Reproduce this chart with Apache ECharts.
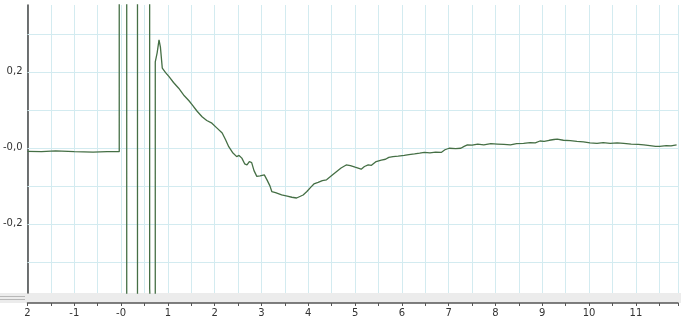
<!DOCTYPE html>
<html>
<head>
<meta charset="utf-8">
<script src="https://cdn.jsdelivr.net/npm/echarts@6/dist/echarts.min.js"></script>
<style>
  html, body { margin: 0; padding: 0; background: #fff; }
  #chart { width: 681px; height: 319px; }
</style>
</head>
<body>
<div id="chart"></div>
<script>
  // trace (time in s, signal)
  var times = [
    -2.0, -1.7, -1.4, -1.0, -0.6, -0.3, -0.04,
    -0.04, 0.12, 0.12, 0.35, 0.35, 0.61, 0.61, 0.63, 0.65, 0.65, 0.73, 0.73,
    0.77, 0.81, 0.84, 0.88, 0.95, 1.02, 1.12, 1.23, 1.35, 1.45, 1.52, 1.62, 1.73, 1.83, 1.94,
    2.05, 2.16, 2.23, 2.30, 2.38, 2.47, 2.52, 2.58, 2.64, 2.69, 2.74, 2.79, 2.84, 2.90, 2.97,
    3.06, 3.12, 3.18, 3.22, 3.30, 3.43, 3.55, 3.65, 3.75, 3.82, 3.89, 3.97,
    4.05, 4.12, 4.21, 4.30, 4.39, 4.50, 4.60, 4.70, 4.81, 4.90,
    5.00, 5.13, 5.20, 5.28, 5.35, 5.45, 5.56, 5.65, 5.72, 5.81, 5.92,
    6.05, 6.15, 6.27, 6.38, 6.48, 6.60, 6.72, 6.84, 6.92,
    7.01, 7.15, 7.26, 7.33, 7.40, 7.50, 7.62, 7.75, 7.90,
    8.04, 8.18, 8.32, 8.45, 8.60, 8.74, 8.85, 8.95,
    9.04, 9.15, 9.25, 9.32, 9.45, 9.60, 9.74, 9.88,
    10.02, 10.17, 10.30, 10.45, 10.60, 10.74, 10.90,
    11.05, 11.17, 11.30, 11.42, 11.51, 11.65, 11.75, 11.87
  ]
  var values = [
    -0.009, -0.010, -0.008, -0.010, -0.011, -0.010, -0.010,
    0.5, 0.5, -0.5, -0.5, 0.5, 0.5, -0.37, -0.37, -0.368, -0.5, -0.5, 0.226,
    0.25, 0.284, 0.265, 0.21, 0.198, 0.188, 0.172, 0.157, 0.137, 0.124, 0.113, 0.097, 0.082, 0.072, 0.065,
    0.052, 0.039, 0.022, 0.003, -0.012, -0.023, -0.020, -0.027, -0.042, -0.045, -0.036, -0.039, -0.060, -0.075, -0.074,
    -0.071, -0.085, -0.100, -0.115, -0.118, -0.124, -0.127, -0.130, -0.132, -0.128, -0.124, -0.115,
    -0.104, -0.095, -0.091, -0.086, -0.084, -0.073, -0.063, -0.053, -0.045, -0.047,
    -0.051, -0.056, -0.049, -0.045, -0.046, -0.036, -0.032, -0.030, -0.025, -0.023, -0.022,
    -0.020, -0.018, -0.016, -0.014, -0.012, -0.013, -0.011, -0.012, -0.005,
    -0.001, -0.002, -0.001, 0.004, 0.008, 0.007, 0.010, 0.008, 0.011,
    0.010, 0.009, 0.008, 0.011, 0.012, 0.014, 0.013, 0.018,
    0.017, 0.020, 0.022, 0.023, 0.020, 0.019, 0.017, 0.016,
    0.013, 0.012, 0.014, 0.012, 0.013, 0.012, 0.010,
    0.009, 0.008, 0.006, 0.004, 0.004, 0.006, 0.005, 0.008
  ]
  var yLabels = [-0.2, 0, 0.2]
  var yGrid = [-0.3, -0.2, -0.1, 0, 0.1, 0.2, 0.3]

  var trace = times.map(function (t, i) { return [t, values[i]] })

  var chart = echarts.init(document.getElementById('chart'))
  chart.setOption({
      animation: false,
      grid: {
          left: 27,
          right: 0,
          top: 5,
          bottom: 26
      },
      graphic: [
          // grey splitter band between plot and time axis
          { type: 'rect', left: 0, top: 293, shape: { width: 681, height: 10 }, style: { fill: '#ececec' }, z: 0 },
          { type: 'line', shape: { x1: 0, y1: 296.5, x2: 25, y2: 296.5 }, style: { stroke: '#b8b8b8', lineWidth: 1 } },
          { type: 'line', shape: { x1: 0, y1: 299.5, x2: 25, y2: 299.5 }, style: { stroke: '#b8b8b8', lineWidth: 1 } }
      ],
      xAxis: {
          type: 'value',
          min: -2,
          max: 11.9,
          interval: 0.5,
          offset: 10,
          axisLine: { onZero: false, lineStyle: { color: '#555', width: 1.5 } },
          axisTick: { show: true, length: 3, lineStyle: { color: '#555' } },
          axisLabel: {
              color: '#333',
              fontSize: 10,
              fontFamily: 'DejaVu Sans',
              margin: 5,
              showMinLabel: true,
              formatter: function (v) {
                  if (Math.abs(v - Math.round(v)) > 1e-6) return ''
                  if (v === -2) return '2'
                  if (v === 0) return '-0'
                  return String(v)
              }
          },
          splitLine: { show: true, lineStyle: { color: '#d3ebf0', width: 1 } }
      },
      yAxis: {
          type: 'value',
          min: -0.382,
          max: 0.376,
          axisLine: { show: true, onZero: false, lineStyle: { color: '#444', width: 1.5 } },
          axisTick: { show: false },
          splitLine: { show: false },
          axisLabel: {
              color: '#333',
              fontSize: 10,
              fontFamily: 'DejaVu Sans',
              margin: 5,
              customValues: yLabels,
              formatter: function (v) {
                  if (v === 0) return '-0,0'
                  return v.toFixed(1).replace('.', ',')
              }
          }
      },
      series: [{
          type: 'line',
          data: trace,
          showSymbol: false,
          silent: true,
          z: 1,
          lineStyle: { opacity: 0 },
          markLine: {
              z: 1,
              silent: true,
              symbol: ['none', 'none'],
              label: { show: false },
              lineStyle: { color: '#d3ebf0', type: 'solid', width: 1 },
              data: yGrid.map(function (v) { return { yAxis: v } })
          }
      }, {
          type: 'line',
          data: trace,
          showSymbol: false,
          clip: true,
          z: 3,
          lineStyle: { color: '#456f45', width: 1.3 }
      }]
  })
</script>
</body>
</html>
